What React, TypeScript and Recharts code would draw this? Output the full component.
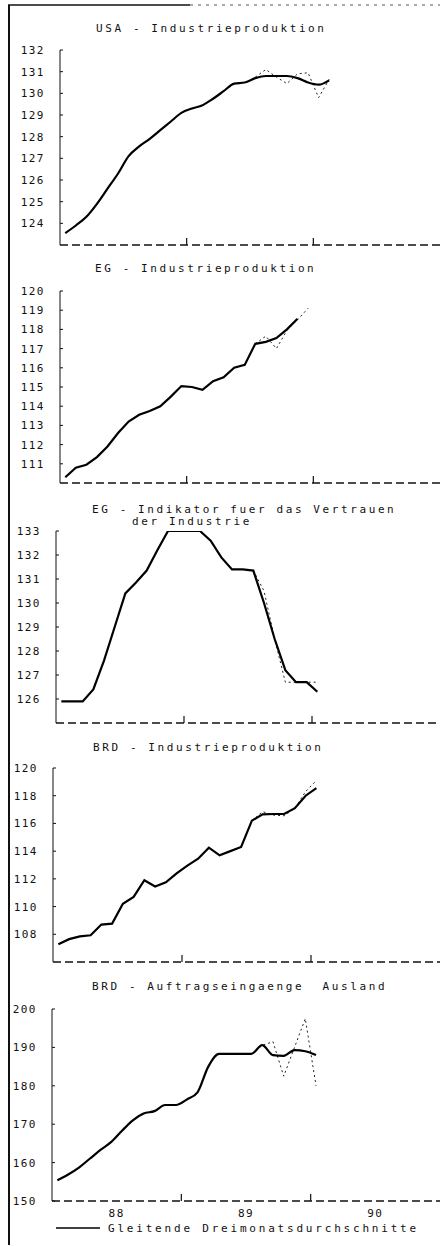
import React from 'react';
import { LineChart, Line, XAxis, YAxis } from 'recharts';

const FONT = '"DejaVu Sans Mono", "Liberation Mono", monospace';

// x axis: months since Jan 1988 (numeric), year marks and year labels
const yearTickMonths = [12, 24];
const yearLabelMonths = [6, 18, 30];
const yearLabels = ['88', '89', '90'];

// USA - Industrieproduktion
const usaAvg = [123.55, 123.9, 124.3, 124.9, 125.6, 126.3, 127.1, 127.55, 127.9, 128.3, 128.7, 129.1, 129.3, 129.45, 129.75, 130.1, 130.45, 130.5, 130.7, 130.8, 130.8, 130.8, 130.7, 130.5, 130.4, 130.6];
const usaMonthlyStart = 18;
const usaMonthly = [130.75, 131.1, 130.75, 130.45, 130.9, 130.95, 129.8, 130.65];
const usaTicks = [124, 125, 126, 127, 128, 129, 130, 131, 132];

// EG - Industrieproduktion
const egIpAvg = [110.3, 110.8, 110.95, 111.35, 111.9, 112.6, 113.2, 113.55, 113.75, 114.0, 114.5, 115.05, 115.0, 114.85, 115.3, 115.5, 116.0, 116.15, 117.25, 117.35, 117.55, 118.0, 118.55];
const egIpMonthlyStart = 18;
const egIpMonthly = [117.25, 117.65, 117.0, 117.95, 118.5, 119.1];
const egIpTicks = [111, 112, 113, 114, 115, 116, 117, 118, 119, 120];

// EG - Indikator fuer das Vertrauen der Industrie
const egConfAvg = [125.9, 125.9, 125.9, 126.4, 127.6, 129.0, 130.4, 130.85, 131.35, 132.2, 133.0, 133.0, 133.0, 133.0, 132.6, 131.9, 131.4, 131.4, 131.35, 130.0, 128.5, 127.2, 126.7, 126.7, 126.3];
const egConfMonthlyStart = 18;
const egConfMonthly = [131.35, 130.5, 128.5, 126.7, 126.7, 126.7, 126.7];
const egConfTicks = [126, 127, 128, 129, 130, 131, 132, 133];

// BRD - Industrieproduktion
const brdIpAvg = [107.28, 107.65, 107.85, 107.93, 108.7, 108.77, 110.2, 110.7, 111.9, 111.45, 111.75, 112.4, 112.95, 113.45, 114.25, 113.7, 114.0, 114.3, 116.2, 116.65, 116.68, 116.68, 117.1, 118.0, 118.55];
const brdIpMonthlyStart = 18;
const brdIpMonthly = [116.2, 116.85, 116.6, 116.55, 117.1, 118.3, 119.1];
const brdIpTicks = [108, 110, 112, 114, 116, 118, 120];

// BRD - Auftragseingaenge Ausland
const brdOrdAvg = [155.4, 156.9, 158.7, 161.0, 163.3, 165.4, 168.3, 171.0, 172.8, 173.4, 175.0, 175.0, 176.4, 178.3, 185.0, 188.3, 188.3, 188.3, 188.3, 190.6, 188.0, 187.8, 189.3, 189.0, 188.0];
const brdOrdMonthlyStart = 18;
const brdOrdMonthly = [188.3, 190.5, 191.5, 182.5, 190.0, 197.5, 180.0];
const brdOrdTicks = [150, 160, 170, 180, 190, 200];

const legendLabel = 'Gleitende Dreimonatsdurchschnitte';

type Panel = {
  key: string;
  titles: string[];
  titleX: number[];
  titleY: number[];
  plotLeft: number;
  plotTop: number;
  plotBottom: number;
  domain: [number, number];
  ticks: number[];
  avg: number[];
  monthlyStart: number;
  monthly: number[];
  curve: 'monotone' | 'linear';
  showYears: boolean;
};

const panels: Panel[] = [
  { key: 'usa', titles: ['USA - Industrieproduktion'], titleX: [96], titleY: [32], plotLeft: 60, plotTop: 50, plotBottom: 245, domain: [123, 132], ticks: usaTicks, avg: usaAvg, monthlyStart: usaMonthlyStart, monthly: usaMonthly, curve: 'monotone', showYears: false },
  { key: 'egip', titles: ['EG - Industrieproduktion'], titleX: [95], titleY: [272], plotLeft: 60, plotTop: 291, plotBottom: 483, domain: [110, 120], ticks: egIpTicks, avg: egIpAvg, monthlyStart: egIpMonthlyStart, monthly: egIpMonthly, curve: 'linear', showYears: false },
  { key: 'egconf', titles: ['EG - Indikator fuer das Vertrauen', 'der Industrie'], titleX: [92, 132], titleY: [513, 525], plotLeft: 56, plotTop: 531, plotBottom: 723, domain: [125, 133], ticks: egConfTicks, avg: egConfAvg, monthlyStart: egConfMonthlyStart, monthly: egConfMonthly, curve: 'linear', showYears: false },
  { key: 'brdip', titles: ['BRD - Industrieproduktion'], titleX: [93], titleY: [751], plotLeft: 53, plotTop: 768, plotBottom: 962, domain: [106, 120], ticks: brdIpTicks, avg: brdIpAvg, monthlyStart: brdIpMonthlyStart, monthly: brdIpMonthly, curve: 'linear', showYears: false },
  { key: 'brdord', titles: ['BRD - Auftragseingaenge  Ausland'], titleX: [92], titleY: [990], plotLeft: 52, plotTop: 1009, plotBottom: 1201, domain: [150, 200], ticks: brdOrdTicks, avg: brdOrdAvg, monthlyStart: brdOrdMonthlyStart, monthly: brdOrdMonthly, curve: 'monotone', showYears: true },
];

function buildTable(p: Panel) {
  const n = Math.max(p.avg.length, p.monthlyStart + p.monthly.length);
  const rows: { m: number; avg: number | null; monthly: number | null }[] = [];
  for (let i = 0; i < n; i++) {
    rows.push({
      m: i + 0.5,
      avg: i < p.avg.length ? p.avg[i] : null,
      monthly: i >= p.monthlyStart && i - p.monthlyStart < p.monthly.length ? p.monthly[i - p.monthlyStart] : null,
    });
  }
  return rows;
}

const makeXTick = (showYears: boolean) => (props: any) => {
  const { x, y, payload } = props;
  const v = payload.value;
  const idx = yearLabelMonths.indexOf(v);
  if (idx >= 0) {
    if (!showYears) return <g />;
    return (
      <text x={x} y={y + 16} textAnchor="middle" fontFamily={FONT} fontSize={11} fill="#111" style={{ letterSpacing: 1.5 }}>
        {yearLabels[idx]}
      </text>
    );
  }
  return <line x1={x} x2={x} y1={y} y2={y - 7} stroke="#111" strokeWidth={1.2} />;
};

const YTick = (props: any) => {
  const { x, y, payload } = props;
  return (
    <g>
      <line x1={x + 15} x2={x + 18} y1={y} y2={y} stroke="#111" strokeWidth={1} />
      <text x={x} y={y + 4} textAnchor="end" fontFamily={FONT} fontSize={11} fill="#111" style={{ letterSpacing: 1.5 }}>
        {payload.value}
      </text>
    </g>
  );
};

const Y_W = 50;
const X_H = 30;

function PanelChart({ p }: { p: Panel }) {
  const data = buildTable(p);
  const plotH = p.plotBottom - p.plotTop;
  const h = 10 + plotH + X_H;
  return (
    <div style={{ position: 'absolute', left: 0, top: p.plotTop - 10, width: 440, height: h }}>
      <LineChart width={440} height={h} data={data} margin={{ top: 10, right: 0, bottom: 0, left: p.plotLeft - Y_W }}>
        <XAxis
          type="number"
          dataKey="m"
          domain={[0, 36]}
          ticks={[...yearLabelMonths, ...yearTickMonths].sort((a, b) => a - b)}
          interval={0}
          height={X_H}
          tickSize={0}
          tickMargin={0}
          tickLine={false}
          axisLine={{ stroke: '#111', strokeWidth: 1.3, strokeDasharray: '8 4' }}
          tick={makeXTick(p.showYears)}
          allowDataOverflow
        />
        <YAxis
          type="number"
          domain={p.domain}
          ticks={p.ticks}
          interval={0}
          width={Y_W}
          tickSize={0}
          tickMargin={15}
          tickLine={false}
          axisLine={{ stroke: '#111', strokeWidth: 1 }}
          tick={YTick}
          allowDataOverflow
        />
        <Line
          dataKey="monthly"
          type="linear"
          stroke="#222"
          strokeWidth={1}
          strokeDasharray="2 3"
          dot={false}
          isAnimationActive={false}
          connectNulls={false}
        />
        <Line
          dataKey="avg"
          type={p.curve}
          stroke="#000"
          strokeWidth={2.2}
          dot={false}
          isAnimationActive={false}
          connectNulls={false}
        />
      </LineChart>
    </div>
  );
}

export default function App() {
  return (
    <div style={{ position: 'absolute', left: 0, top: 0, width: 440, height: 1246, background: '#fff', overflow: 'hidden' }}>
      {panels.map((p) => (
        <PanelChart key={p.key} p={p} />
      ))}
      <svg width={440} height={1246} style={{ position: 'absolute', left: 0, top: 0, pointerEvents: 'none' }}>
        <line x1={8} x2={190} y1={5} y2={5} stroke="#111" strokeWidth={1.5} />
        <line x1={190} x2={440} y1={5} y2={5} stroke="#555" strokeWidth={1} strokeDasharray="3 5" />
        <line x1={9} x2={9} y1={5} y2={1245} stroke="#111" strokeWidth={2} />
        {panels.map((p) =>
          p.titles.map((t, i) => (
            <text
              key={p.key + i}
              x={p.titleX[i]}
              y={p.titleY[i]}
              fontFamily={FONT}
              fontSize={11}
              fill="#111"
              style={{ letterSpacing: 2.6, whiteSpace: 'pre' }}
              xmlSpace="preserve"
            >
              {t}
            </text>
          ))
        )}
        <line x1={56} x2={100} y1={1228} y2={1228} stroke="#000" strokeWidth={1.6} />
        <text x={108} y={1232} fontFamily={FONT} fontSize={11} fill="#111" style={{ letterSpacing: 2.8 }}>
          {legendLabel}
        </text>
      </svg>
    </div>
  );
}
